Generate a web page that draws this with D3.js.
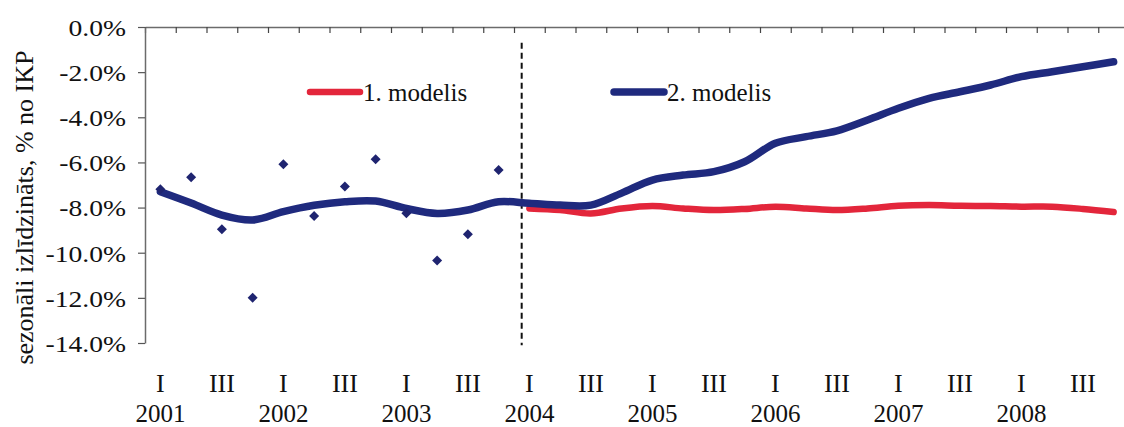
<!DOCTYPE html>
<html>
<head>
<meta charset="utf-8">
<script src="https://cdn.jsdelivr.net/npm/d3@7"></script>
<style>
  html, body { margin: 0; padding: 0; background: #fff; }
  svg { display: block; font-family: "Liberation Serif", "Times New Roman", serif; }
</style>
</head>
<body>
<svg id="chart" width="1124" height="427"></svg>
<script>
// Quarterly categories
const years = ["2001", "2002", "2003", "2004", "2005", "2006", "2007", "2008"];
const quarters = ["I", "II", "III", "IV"];
const labelledQuarters = ["I", "III"];

// Observed values (2001 Q1 – 2003 Q4), % of GDP
const actual = [-7.19, -6.66, -8.96, -11.99, -6.08, -8.37, -7.07, -5.86, -8.25, -10.35, -9.18, -6.34];

// Model 1 path (2004 Q1 – 2008 Q4)
const model1 = [-8.04, -8.11, -8.26, -8.04, -7.93, -8.04, -8.11, -8.06, -7.96, -8.04,
                -8.11, -8.04, -7.92, -7.89, -7.92, -7.93, -7.96, -7.96, -8.06, -8.20];

// Model 2 path (2001 Q1 – 2008 Q4)
const model2 = [-7.30, -7.80, -8.33, -8.55, -8.18, -7.90, -7.74, -7.71, -8.04, -8.26, -8.11, -7.74,
                -7.81, -7.89, -7.89, -7.36, -6.78, -6.56, -6.41, -5.97, -5.15, -4.86, -4.60, -4.12,
                -3.60, -3.16, -2.87, -2.57, -2.20, -1.98, -1.76, -1.54];

const yTicks = [0, -2, -4, -6, -8, -10, -12, -14];
const seriesNames = ["1. modelis", "2. modelis"];
const yTitle = "sezonāli izlīdzināts, % no IKP";
const forecastStart = "2004-I";

const categories = years.flatMap(yr => quarters.map(q => yr + "-" + q));
const actualCats = categories.slice(0, actual.length);
const model1Cats = categories.slice(categories.indexOf(forecastStart));

const colors = { model1: "#e3263b", model2: "#1f2a7e", actual: "#1f2470", axis: "#6b6b6b" };

const svg = d3.select("#chart");
const bandW = 30.75;
const x = d3.scaleBand().domain(categories).range([145, 145 + categories.length * bandW]).padding(0);
const xIdx = d3.scaleLinear().domain([0, categories.length]).range(x.range());
const y = d3.scaleLinear().domain([-14, 0]).range([343, 27]);
const cx = c => x(c) + x.bandwidth() / 2;

// Category axis along the top edge, ticks between quarters
const topAxis = svg.append("g")
  .attr("transform", `translate(0,${y(0)})`)
  .call(d3.axisBottom(xIdx).tickValues(d3.range(0, categories.length + 1)).tickSize(6).tickSizeOuter(0).tickFormat(""));
topAxis.select(".domain").attr("stroke", colors.axis).attr("stroke-width", 1.5);
topAxis.selectAll(".tick line").attr("stroke", "#444").attr("stroke-width", 1.2);

// Value axis; labels are set in a slightly widened serif
const labelStretch = 1.15;
const yAxis = svg.append("g")
  .attr("transform", `translate(${xIdx(0)},0)`)
  .call(d3.axisLeft(y).tickValues(yTicks).tickSize(7).tickSizeOuter(0).tickPadding(12)
    .tickFormat(d => d.toFixed(1) + "%"));
yAxis.select(".domain").attr("stroke", colors.axis).attr("stroke-width", 1.5);
yAxis.selectAll(".tick line").attr("stroke", "#555").attr("stroke-width", 1.2);
yAxis.selectAll(".tick text")
  .attr("fill", "#111")
  .attr("font-family", "Liberation Serif, serif")
  .style("font-size", "24px")
  .attr("x", -19 / labelStretch)
  .attr("dy", "0.35em")
  .attr("transform", `scale(${labelStretch},1)`);

// Axis title
svg.append("text")
  .attr("transform", `translate(33,${(y(-0.7) + y(-15.3)) / 2}) rotate(-90)`)
  .attr("text-anchor", "middle")
  .attr("fill", "#111")
  .style("font-size", "26px")
  .text(yTitle);

// Quarter and year labels under the plot
const qLabels = categories.filter(c => labelledQuarters.includes(c.split("-")[1]));
svg.append("g").selectAll("text").data(qLabels).join("text")
  .attr("x", d => cx(d)).attr("y", 392)
  .attr("text-anchor", "middle").attr("fill", "#111").style("font-size", "26px")
  .text(d => d.split("-")[1]);
svg.append("g").selectAll("text").data(years).join("text")
  .attr("x", d => cx(d + "-I")).attr("y", 422)
  .attr("text-anchor", "middle").attr("fill", "#111").style("font-size", "25px")
  .text(d => d);

// Forecast divider
const divX = x(forecastStart) + x.bandwidth() * 0.25;
svg.append("line")
  .attr("x1", divX).attr("x2", divX)
  .attr("y1", y(-0.7)).attr("y2", y(-14.1))
  .attr("stroke", "#111").attr("stroke-width", 2).attr("stroke-dasharray", "6,4");

// Model lines
const line = d3.line().x(d => cx(d.c)).y(d => y(d.v)).curve(d3.curveCatmullRom);
svg.append("path")
  .datum(model1.map((v, i) => ({ c: model1Cats[i], v })))
  .attr("d", line).attr("fill", "none")
  .attr("stroke", colors.model1).attr("stroke-width", 6.5)
  .attr("stroke-linecap", "round").attr("stroke-linejoin", "round");
svg.append("path")
  .datum(model2.map((v, i) => ({ c: categories[i], v })))
  .attr("d", line).attr("fill", "none")
  .attr("stroke", colors.model2).attr("stroke-width", 7.5)
  .attr("stroke-linecap", "round").attr("stroke-linejoin", "round");

// Observed points as diamonds
const diamond = d3.symbol(d3.symbolSquare, 50);
svg.append("g").selectAll("path").data(actual).join("path")
  .attr("d", diamond)
  .attr("transform", (v, i) => `translate(${cx(actualCats[i])},${y(v)}) rotate(45)`)
  .attr("fill", colors.actual);

// Legend
const legend = [
  { name: seriesNames[0], color: colors.model1, x0: 310, w: 6.5 },
  { name: seriesNames[1], color: colors.model2, x0: 614, w: 7.5 }
];
const lg = svg.append("g").selectAll("g").data(legend).join("g")
  .attr("transform", d => `translate(${d.x0},92)`);
lg.append("line")
  .attr("x1", 0).attr("x2", 50).attr("y1", 0).attr("y2", 0)
  .attr("stroke", d => d.color).attr("stroke-width", d => d.w).attr("stroke-linecap", "round");
lg.append("text")
  .attr("x", 53).attr("y", 9)
  .attr("fill", "#111").style("font-size", "25px")
  .text(d => d.name);
</script>
</body>
</html>
